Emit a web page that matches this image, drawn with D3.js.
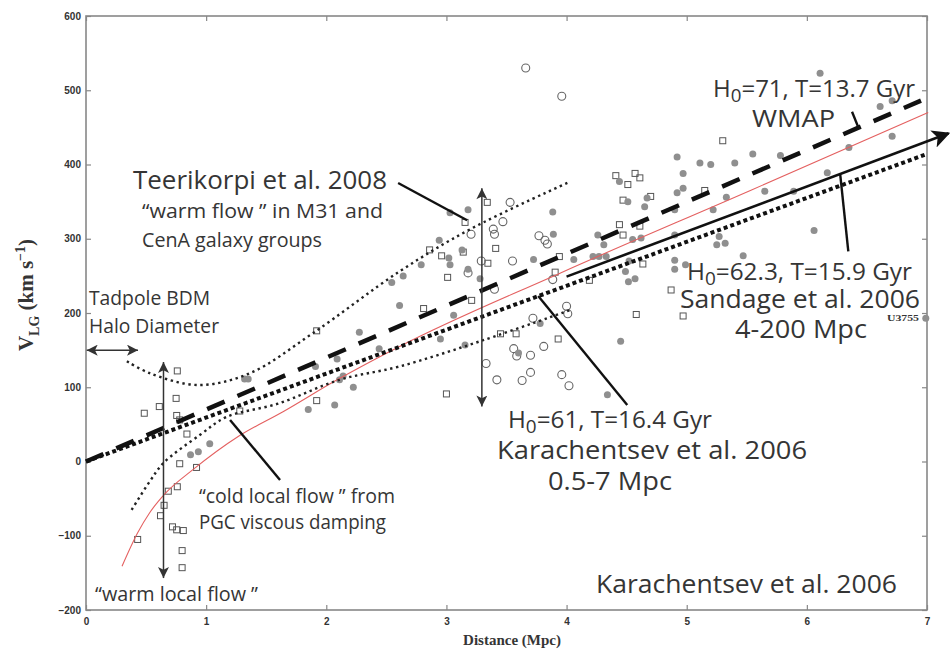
<!DOCTYPE html>
<html>
<head>
<meta charset="utf-8">
<script src="https://cdn.jsdelivr.net/npm/d3@7"></script>
<style>
    body { margin: 0; background: #fff; }
    text { font-family: "Open Sans", sans-serif; fill: #353535; }
    .tick text { font-family: "Liberation Sans", Arial, sans-serif; font-weight: bold; font-size: 10px; fill: #333; }
    .tick line { stroke: #888; stroke-width: 1.2; }
</style>
</head>
<body>
<svg width="950" height="653"></svg>
<script>
// ---- data (distance in Mpc, velocity in km/s) ----
var x_ticks = [0, 1, 2, 3, 4, 5, 6, 7]
var y_ticks = [-200, -100, 0, 100, 200, 300, 400, 500, 600]

var square_pts = [[0.43, -105], [0.485, 65], [0.61, 74], [0.62, -73], [0.65, -59], [0.685, -40], [0.72, -88],
    [0.755, -92], [0.76, -34], [0.76, 122], [0.75, 85], [0.755, 62], [0.78, 56], [0.84, 37], [0.78, -3],
    [0.92, -8], [0.81, -93], [0.80, -120], [0.80, -143], [1.28, 68], [1.92, 82], [1.92, 176], [2.81, 206],
    [2.86, 285], [2.96, 277], [3.00, 91], [3.01, 248], [3.14, 282], [3.155, 322], [3.21, 217], [3.34, 349],
    [3.345, 267], [3.41, 287], [3.45, 172], [3.58, 172], [3.905, 255], [3.93, 165], [3.94, 276], [4.19, 244],
    [4.41, 385], [4.44, 319], [4.47, 305], [4.51, 373], [4.57, 388], [4.61, 382], [4.61, 317], [4.635, 266],
    [4.70, 357], [4.47, 352], [4.58, 198], [4.87, 231], [4.97, 196], [5.15, 365], [5.30, 432]]

var open_pts = [[3.18, 254], [3.205, 306], [3.29, 270], [3.33, 132], [3.39, 313], [3.40, 306], [3.40, 232],
    [3.42, 110], [3.47, 323], [3.53, 349], [3.55, 270], [3.56, 152], [3.585, 142], [3.63, 109], [3.66, 530],
    [3.70, 143], [3.70, 120], [3.72, 193], [3.77, 304], [3.81, 155], [3.82, 298], [3.84, 293], [3.885, 245],
    [3.96, 492], [3.96, 117], [4.0, 209], [4.01, 199], [4.02, 102]]

var grey_pts = [[0.87, 9], [0.935, 13], [1.03, 24], [1.32, 111], [1.35, 111], [1.85, 70], [1.91, 128],
    [2.07, 76], [2.09, 138], [2.11, 110], [2.14, 115], [2.225, 100], [2.275, 174], [2.44, 152], [2.545, 241],
    [2.61, 210], [2.64, 250], [2.79, 265], [2.94, 298], [2.95, 165], [3.02, 274], [3.03, 265], [3.03, 335],
    [3.06, 197], [3.13, 285], [3.155, 157], [3.18, 339], [3.18, 259], [3.28, 246], [3.60, 146], [3.725, 272],
    [3.78, 186], [3.885, 336], [3.89, 306], [4.06, 272], [4.22, 276], [4.27, 276], [4.26, 305], [4.31, 292],
    [4.33, 276], [4.34, 90], [4.44, 377], [4.45, 162], [4.49, 256], [4.51, 350], [4.515, 242], [4.52, 270],
    [4.55, 299], [4.57, 246], [4.62, 301], [4.65, 343], [4.67, 355], [4.90, 339], [4.90, 305], [4.90, 271],
    [4.90, 259], [4.92, 410], [4.92, 362], [4.97, 368], [4.97, 388], [4.99, 265], [5.11, 402], [5.20, 400],
    [5.22, 339], [5.25, 292], [5.27, 303], [5.32, 294], [5.33, 356], [5.40, 402], [5.47, 277], [5.55, 414],
    [5.65, 364], [5.78, 412], [5.89, 364], [6.06, 311], [6.11, 523], [6.17, 389], [6.35, 423], [6.61, 478],
    [6.71, 486], [6.71, 438], [6.99, 193]]

var wmap_line = [[0, 0], [6.95, 486]]
var karachentsev_line = [[0, 0], [6.98, 413]]
var sandage_line = [[4.0, 249], [7.18, 442]]
var red_curve = [[0.30, -141], [0.43, -96], [0.53, -69], [0.66, -43], [0.89, -11], [1.27, 34], [1.64, 67],
    [2.09, 110], [2.61, 155], [3.95, 254], [5.53, 365], [7.01, 470]]
var warm_upper = [[0.34, 135], [0.53, 119], [0.935, 103], [1.365, 119], [1.89, 173], [2.61, 256], [3.2, 313], [4.03, 377]]
var warm_lower = [[0.38, -65], [0.53, -27], [0.645, -2], [0.95, 36], [1.17, 60], [1.6, 78], [2.11, 110],
    [2.61, 128], [3.3, 163], [4.03, 204]]

// annotation arrows / pointers, also in data units
var double_arrows = [[[0.645, 134], [0.645, -157]], [[3.295, 368], [3.295, 74]], [[0.006, 150], [0.433, 150]]]
var pointers = [[[2.598, 375], [3.172, 325]], [[1.199, 56], [1.615, -25]], [[3.764, 223], [4.505, 76]],
    [[6.278, 386], [6.345, 283]], [[6.376, 471], [6.431, 449]]]

function draw_chart() {
    var svg = d3.select("svg")
    var m_left = 86, m_right = 927, m_top = 16, m_bottom = 610

    var x = d3.scaleLinear().domain([0, 7]).range([m_left, m_right])
    var y = d3.scaleLinear().domain([-200, 600]).range([m_bottom, m_top])

    var defs = svg.append("defs")
    defs.append("marker").attr("id", "head").attr("viewBox", "0 0 10 10")
        .attr("refX", 10).attr("refY", 5).attr("markerWidth", 13).attr("markerHeight", 11)
        .attr("markerUnits", "userSpaceOnUse").attr("orient", "auto-start-reverse")
        .append("path").attr("d", "M0,0 L10,5 L0,10 L2.5,5 z").attr("fill", "#333")
    defs.append("marker").attr("id", "bighead").attr("viewBox", "0 0 10 10")
        .attr("refX", 9).attr("refY", 5).attr("markerWidth", 24).attr("markerHeight", 18)
        .attr("markerUnits", "userSpaceOnUse").attr("orient", "auto")
        .append("path").attr("d", "M0,0 L10,5 L0,10 L2.5,5 z").attr("fill", "#111")

    // axes with inward ticks
    svg.append("g").attr("transform", "translate(" + m_left + ",0)")
        .call(d3.axisLeft(y).tickValues(y_ticks).tickSize(-5).tickPadding(5).tickFormat(d3.format("d")))
        .call(function (g) { g.select(".domain").remove() })
    svg.append("g").attr("transform", "translate(0," + m_bottom + ")")
        .call(d3.axisBottom(x).tickValues(x_ticks).tickSize(-5).tickPadding(8).tickFormat(d3.format("d")))
        .call(function (g) { g.select(".domain").remove() })
    svg.append("g").attr("transform", "translate(" + m_right + ",0)")
        .call(d3.axisRight(y).tickValues(y_ticks).tickSize(-5).tickFormat(""))
        .call(function (g) { g.select(".domain").remove() })
    svg.append("g").attr("transform", "translate(0," + m_top + ")")
        .call(d3.axisTop(x).tickValues(x_ticks).tickSize(-5).tickFormat(""))
        .call(function (g) { g.select(".domain").remove() })

    svg.append("rect").attr("x", m_left).attr("y", m_top).attr("width", m_right - m_left).attr("height", m_bottom - m_top)
        .attr("fill", "none").attr("stroke", "#888").attr("stroke-width", 1.6)

    // points
    svg.append("g").selectAll("rect").data(square_pts).enter().append("rect")
        .attr("x", function (d) { return x(d[0]) - 3 })
        .attr("y", function (d) { return y(d[1]) - 3 })
        .attr("width", 6).attr("height", 6)
        .attr("fill", "none").attr("stroke", "#555").attr("stroke-width", 1)
    svg.append("g").selectAll("circle").data(open_pts).enter().append("circle")
        .attr("cx", function (d) { return x(d[0]) })
        .attr("cy", function (d) { return y(d[1]) })
        .attr("r", 4).attr("fill", "none").attr("stroke", "#666").attr("stroke-width", 1.1)
    svg.append("g").selectAll("circle").data(grey_pts).enter().append("circle")
        .attr("cx", function (d) { return x(d[0]) })
        .attr("cy", function (d) { return y(d[1]) })
        .attr("r", 3.5).attr("fill", "#8f8f8f")

    var line = d3.line().x(function (d) { return x(d[0]) }).y(function (d) { return y(d[1]) })
    var curve = d3.line().curve(d3.curveMonotoneX).x(function (d) { return x(d[0]) }).y(function (d) { return y(d[1]) })
    var smooth = d3.line().curve(d3.curveCatmullRom).x(function (d) { return x(d[0]) }).y(function (d) { return y(d[1]) })

    svg.append("path").datum(red_curve).attr("d", curve)
        .attr("fill", "none").attr("stroke", "#e46060").attr("stroke-width", 1.1)
    svg.append("path").datum(warm_upper).attr("d", smooth)
        .attr("fill", "none").attr("stroke", "#222").attr("stroke-width", 2.4).attr("stroke-dasharray", "2.4,3.6")
    svg.append("path").datum(warm_lower).attr("d", smooth)
        .attr("fill", "none").attr("stroke", "#222").attr("stroke-width", 2.4).attr("stroke-dasharray", "2.4,3.6")
    svg.append("path").datum(karachentsev_line).attr("d", line)
        .attr("fill", "none").attr("stroke", "#111").attr("stroke-width", 4).attr("stroke-dasharray", "4,3")
    svg.append("path").datum(wmap_line).attr("d", line)
        .attr("fill", "none").attr("stroke", "#111").attr("stroke-width", 4.5).attr("stroke-dasharray", "19,14")
    svg.append("path").datum(sandage_line).attr("d", line)
        .attr("fill", "none").attr("stroke", "#111").attr("stroke-width", 2.6).attr("marker-end", "url(#bighead)")

    // annotation arrows
    double_arrows.forEach(function (a) {
        svg.append("path").datum(a).attr("d", line)
            .attr("stroke", "#333").attr("stroke-width", 1.5)
            .attr("marker-start", "url(#head)").attr("marker-end", "url(#head)")
    })
    pointers.forEach(function (a) {
        svg.append("path").datum(a).attr("d", line).attr("stroke", "#111").attr("stroke-width", 2.4)
    })

    // labels
    function add_label(px, py, str, size, len) {
        var t = svg.append("text").attr("x", px).attr("y", py).attr("font-size", size)
        var bits = str.split("_0")
        if (bits.length > 1) {
            t.append("tspan").text(bits[0])
            t.append("tspan").attr("font-size", size * 0.78).attr("dy", size * 0.22).text("0")
            t.append("tspan").attr("dy", -size * 0.22).text(bits[1])
        } else {
            t.text(str)
        }
        if (len) t.attr("textLength", len).attr("lengthAdjust", "spacingAndGlyphs")
        return t
    }

    add_label(133, 189, "Teerikorpi et al. 2008", 25, 254)
    add_label(142, 218, "\u201cwarm flow \u201d in M31 and", 20, 241)
    add_label(142, 247, "CenA galaxy groups", 20, 180)
    add_label(89, 305, "Tadpole BDM", 20, 121)
    add_label(89, 333, "Halo Diameter", 20, 130)
    add_label(199, 503, "\u201ccold local flow \u201d from", 20, 196)
    add_label(199, 529, "PGC viscous damping", 20, 187)
    add_label(95, 601, "\u201cwarm local flow \u201d", 20, 163)
    add_label(713, 97, "H_0=71, T=13.7 Gyr", 23, 202)
    add_label(752, 127, "WMAP", 24, 83)
    add_label(687, 280, "H_0=62.3, T=15.9 Gyr", 23, 225)
    add_label(680, 308, "Sandage et al. 2006", 25, 240)
    add_label(735, 338, "4-200 Mpc", 25, 132)
    add_label(508, 428, "H_0=61, T=16.4 Gyr", 23, 204)
    add_label(497, 459, "Karachentsev et al. 2006", 25, 310)
    add_label(548, 490, "0.5-7 Mpc", 25, 124)
    add_label(596, 593, "Karachentsev et al. 2006", 25, 301)

    svg.append("text").attr("x", 887).attr("y", 321).text("U3755")
        .style("font-family", "Liberation Serif, serif").style("font-weight", "bold").style("font-size", "8px")
        .attr("textLength", 32).attr("lengthAdjust", "spacingAndGlyphs")

    // axis titles
    svg.append("text").attr("x", 512).attr("y", 645).attr("text-anchor", "middle")
        .style("font-family", "Liberation Serif, serif").style("font-weight", "bold").style("font-size", "15px")
        .text("Distance (Mpc)")

    var ylab = svg.append("text").attr("transform", "translate(33,295) rotate(-90)").attr("text-anchor", "middle")
        .style("font-family", "Liberation Serif, serif").style("font-weight", "bold").style("font-size", "21px")
    ylab.append("tspan").text("V")
    ylab.append("tspan").attr("dy", 6).style("font-size", "14px").text("LG")
    ylab.append("tspan").attr("dy", -6).text(" (km s")
    ylab.append("tspan").attr("dy", -8).style("font-size", "14px").text("\u22121")
    ylab.append("tspan").attr("dy", 8).text(")")
}

draw_chart()
</script>
</body>
</html>
